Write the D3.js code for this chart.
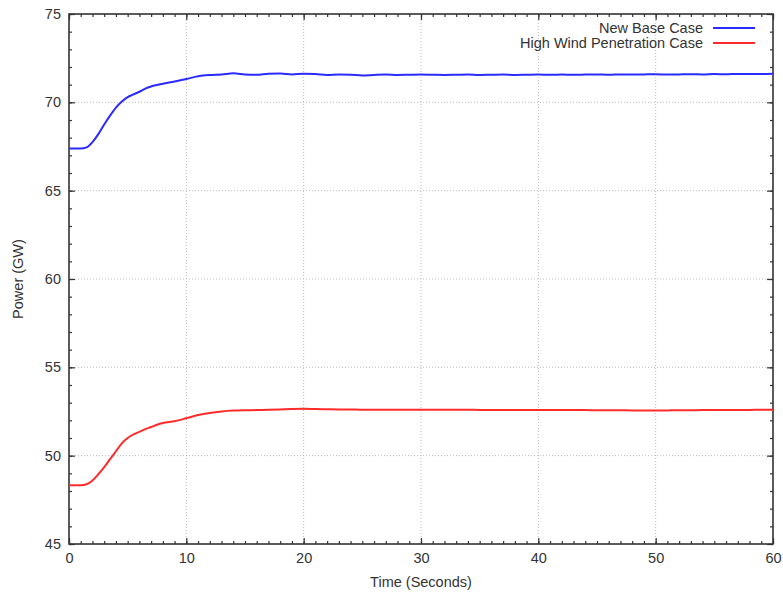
<!DOCTYPE html>
<html>
<head>
<meta charset="utf-8">
<script src="https://cdn.jsdelivr.net/npm/d3@7"></script>
<style>
  html, body { margin: 0; padding: 0; background: #fff; }
  svg { display: block; }
  text { font-family: "Liberation Sans", Arial, Helvetica, sans-serif; fill: #333; }
</style>
</head>
<body>
<svg id="chart" width="783" height="592"></svg>
<script>
// ---- data ----
const seriesNames = ["New Base Case", "High Wind Penetration Case"];
const seriesColors = ["#2b2bff", "#ff2b2b"];

const time = [0, 1, 1.5, 2, 2.5, 3, 3.5, 4, 4.5, 5, 5.5, 6, 6.5, 7, 7.5, 8, 9, 10, 11, 12, 13, 14, 15, 16, 17, 18, 19, 20,
  21, 22, 23, 24, 25, 26, 27, 28, 29, 30, 31, 32, 33, 34, 35, 36, 37, 38, 39, 40,
  41, 42, 43, 44, 45, 46, 47, 48, 49, 50, 51, 52, 53, 54, 55, 56, 57, 58, 59, 60];

const baseCase = [67.38, 67.38, 67.45, 67.75, 68.2, 68.75, 69.25, 69.7, 70.05, 70.3, 70.45, 70.6, 70.78, 70.9, 70.98, 71.05,
  71.18, 71.32, 71.48, 71.55, 71.58, 71.64, 71.58, 71.56, 71.62, 71.63, 71.58, 71.62,
  71.6, 71.55, 71.57, 71.56, 71.52, 71.55, 71.57, 71.55, 71.56, 71.57, 71.56, 71.55, 71.56, 71.57, 71.55, 71.56, 71.57, 71.55, 71.56, 71.57,
  71.56, 71.57, 71.56, 71.57, 71.58, 71.56, 71.58, 71.57, 71.58, 71.59, 71.57, 71.58, 71.59, 71.58, 71.6, 71.59, 71.61, 71.6, 71.6, 71.62];

const highWind = [48.33, 48.33, 48.38, 48.6, 48.95, 49.35, 49.8, 50.25, 50.7, 51.0, 51.2, 51.35, 51.5, 51.62, 51.75, 51.85,
  51.95, 52.12, 52.3, 52.42, 52.5, 52.55, 52.57, 52.58, 52.6, 52.62, 52.64, 52.65,
  52.64, 52.63, 52.62, 52.62, 52.6, 52.6, 52.6, 52.6, 52.6, 52.6, 52.6, 52.6, 52.6, 52.6, 52.59, 52.59, 52.59, 52.59, 52.58, 52.58,
  52.58, 52.58, 52.58, 52.58, 52.57, 52.57, 52.57, 52.56, 52.56, 52.55, 52.56, 52.57, 52.57, 52.58, 52.58, 52.58, 52.59, 52.59, 52.6, 52.6];

const xTicks = [0, 10, 20, 30, 40, 50, 60];
const yTicks = [45, 50, 55, 60, 65, 70, 75];
const xLabel = "Time (Seconds)";
const yLabel = "Power (GW)";

// ---- layout ----
const W = 783, H = 592;
const margin = { top: 14, right: 10, bottom: 48, left: 69 };
const iw = W - margin.left - margin.right;
const ih = H - margin.top - margin.bottom;

const svg = d3.select("#chart");
const g = svg.append("g").attr("transform", `translate(${margin.left},${margin.top})`);

const x = d3.scaleLinear().domain([0, 60]).range([0, iw]);
const y = d3.scaleLinear().domain([45, 75]).range([ih, 0]);

// grid
g.append("g").selectAll("line").data(xTicks.slice(1, -1)).join("line")
  .attr("x1", d => x(d)).attr("x2", d => x(d)).attr("y1", 0).attr("y2", ih)
  .attr("stroke", "#bbb").attr("stroke-width", 1).attr("stroke-dasharray", "1,2");
g.append("g").selectAll("line").data(yTicks.slice(1, -1)).join("line")
  .attr("y1", d => y(d)).attr("y2", d => y(d)).attr("x1", 0).attr("x2", iw)
  .attr("stroke", "#bbb").attr("stroke-width", 1).attr("stroke-dasharray", "1,2");

// axes with minor ticks (mirrored on all sides)
const xMinor = d3.range(0, 61, 1);
const yMinor = d3.range(45, 76, 1);
const tickStyle = sel => {
  sel.select(".domain").remove();
  sel.selectAll(".tick line").attr("stroke", "#333").attr("stroke-width", 1.2);
  sel.selectAll(".tick text").style("font-size", "14.5px").attr("fill", "#333");
};

// bottom major + labels
g.append("g").attr("transform", `translate(0,${ih})`)
  .call(d3.axisBottom(x).tickValues(xTicks).tickSize(-6).tickPadding(9).tickFormat(d3.format("d")))
  .call(tickStyle);
g.append("g").attr("transform", `translate(0,${ih})`)
  .call(d3.axisBottom(x).tickValues(xMinor).tickSize(-3).tickFormat(""))
  .call(tickStyle);
// top mirror
g.append("g")
  .call(d3.axisTop(x).tickValues(xTicks).tickSize(-6).tickFormat(""))
  .call(tickStyle);
g.append("g")
  .call(d3.axisTop(x).tickValues(xMinor).tickSize(-3).tickFormat(""))
  .call(tickStyle);
// left
g.append("g")
  .call(d3.axisLeft(y).tickValues(yTicks).tickSize(-6).tickPadding(8).tickFormat(d3.format("d")))
  .call(tickStyle);
g.append("g")
  .call(d3.axisLeft(y).tickValues(yMinor).tickSize(-3).tickFormat(""))
  .call(tickStyle);
// right mirror
g.append("g").attr("transform", `translate(${iw},0)`)
  .call(d3.axisRight(y).tickValues(yTicks).tickSize(-6).tickFormat(""))
  .call(tickStyle);
g.append("g").attr("transform", `translate(${iw},0)`)
  .call(d3.axisRight(y).tickValues(yMinor).tickSize(-3).tickFormat(""))
  .call(tickStyle);

// frame
g.append("rect").attr("x", 0).attr("y", 0).attr("width", iw).attr("height", ih)
  .attr("fill", "none").attr("stroke", "#333").attr("stroke-width", 1.6);

// lines
const series = [baseCase, highWind];
const line = d3.line().x((d, i) => x(time[i])).y(d => y(d)).curve(d3.curveMonotoneX);
series.forEach((s, k) => {
  g.append("path").datum(s).attr("d", line)
    .attr("fill", "none").attr("stroke", seriesColors[k]).attr("stroke-width", 2)
    .attr("stroke-linejoin", "round");
});

// legend
const lg = g.append("g");
seriesNames.forEach((name, k) => {
  const ly = 14 + k * 15;
  lg.append("text").attr("x", 634).attr("y", ly).attr("dy", "0.35em")
    .attr("text-anchor", "end").style("font-size", "14.5px").text(name);
  lg.append("line").attr("x1", 644).attr("x2", 686).attr("y1", ly).attr("y2", ly)
    .attr("stroke", seriesColors[k]).attr("stroke-width", 2);
});

// axis titles
svg.append("text").attr("x", margin.left + iw / 2).attr("y", 587)
  .attr("text-anchor", "middle").style("font-size", "14.5px").text(xLabel);
svg.append("text").attr("transform", `translate(23,${margin.top + ih / 2}) rotate(-90)`)
  .attr("text-anchor", "middle").style("font-size", "14.5px").text(yLabel);
</script>
</body>
</html>
